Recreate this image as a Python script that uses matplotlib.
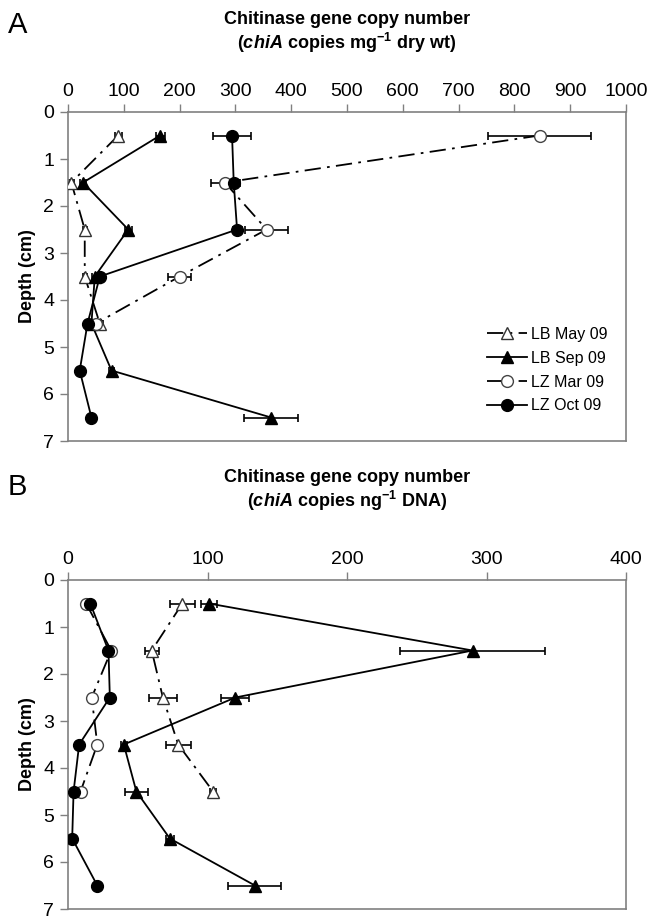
import matplotlib
matplotlib.use("Agg")
import matplotlib.pyplot as plt
import numpy as np

plt.rcParams['font.family'] = ['Liberation Sans', 'DejaVu Sans']
plt.rcParams['mathtext.fontset'] = 'custom'
plt.rcParams['mathtext.it'] = 'Liberation Sans:italic:bold'
plt.rcParams['mathtext.rm'] = 'Liberation Sans:bold'
plt.rcParams['mathtext.bf'] = 'Liberation Sans:bold'

depth = [0.5, 1.5, 2.5, 3.5, 4.5, 5.5, 6.5]
series_labels = ["LB May 09", "LB Sep 09", "LZ Mar 09", "LZ Oct 09"]

# Panel A: chiA copies mg-1 dry wt
a_lb_may = [90, 6, 30, 30, 57]
a_lb_may_err = [6, 4, 4, 4, 5]
a_lb_sep = [165, 27, 108, 48, 42, 78, 364]
a_lb_sep_err = [8, 5, 6, 5, 4, 4, 48]
a_lz_mar = [845, 281, 356, 200, 50]
a_lz_mar_err = [92, 25, 38, 20, 4]
a_lz_oct = [294, 297, 303, 57, 35, 21, 42]
a_lz_oct_err = [34, 12, 8, 4, 3, 2, 3]

# Panel B: chiA copies ng-1 DNA
b_lb_may = [82, 60, 68, 79, 104]
b_lb_may_err = [9, 5, 10, 9, 2]
b_lb_sep = [101, 290, 120, 40, 49, 73, 134]
b_lb_sep_err = [6, 52, 10, 2, 8, 3, 19]
b_lz_mar = [13, 31, 17, 21, 9]
b_lz_mar_err = [1, 1, 1, 1, 1]
b_lz_oct = [16, 29, 30, 8, 4, 3, 21]
b_lz_oct_err = [1, 1, 1, 1, 1, 1, 1]

a_xticks = list(range(0, 1001, 100))
b_xticks = list(range(0, 401, 100))
yticks = list(range(0, 8))

W, H = 652, 917
fig = plt.figure(figsize=(W / 100, H / 100), dpi=100)

DASHDOT = (0, (9, 3.5, 1.5, 3.5))
SPINE = '#808080'

def px(x0, y0, x1, y1):
    return [x0 / W, 1 - y1 / H, (x1 - x0) / W, (y1 - y0) / H]

def draw(ax, may, may_e, sep, sep_e, mar, mar_e, octo, octo_e, xmax, xticks):
    styles = [
        (may, may_e, dict(marker='^', mfc='white', mec='#333333', ls=DASHDOT, ms=8.5)),
        (sep, sep_e, dict(marker='^', mfc='black', mec='black', ls='-', ms=8.5)),
        (mar, mar_e, dict(marker='o', mfc='white', mec='#444444', ls=DASHDOT, ms=8.5)),
        (octo, octo_e, dict(marker='o', mfc='black', mec='black', ls='-', ms=8.5)),
    ]
    handles = []
    for (vals, errs, st), lab in zip(styles, series_labels):
        d = depth[:len(vals)]
        ax.errorbar(vals, d, xerr=errs, fmt='none', ecolor='black', elinewidth=1.2,
                    capsize=3, capthick=1.2, zorder=2)
        h, = ax.plot(vals, d, color='black', lw=1.3, label=lab, zorder=3, **st)
        handles.append(h)
    ax.set_xlim(0, xmax)
    ax.set_ylim(7, 0)
    ax.set_xticks(xticks)
    ax.set_yticks(yticks)
    ax.xaxis.tick_top()
    ax.tick_params(axis='both', labelsize=14, length=6, width=1, color=SPINE, pad=4)
    ax.tick_params(axis='x', pad=3)
    for s in ax.spines.values():
        s.set_color(SPINE)
        s.set_linewidth(1.2)
    ax.set_ylabel('Depth (cm)', fontsize=13, fontweight='bold', labelpad=5)
    return handles

axA = fig.add_axes(px(68, 112, 626, 441))
hA = draw(axA, a_lb_may, a_lb_may_err, a_lb_sep, a_lb_sep_err, a_lz_mar, a_lz_mar_err,
          a_lz_oct, a_lz_oct_err, 1000, a_xticks)
axB = fig.add_axes(px(68, 580, 626, 909))
draw(axB, b_lb_may, b_lb_may_err, b_lb_sep, b_lb_sep_err, b_lz_mar, b_lz_mar_err,
     b_lz_oct, b_lz_oct_err, 400, b_xticks)

fig.legend(handles=hA, labels=series_labels, loc='upper left',
           bbox_to_anchor=(487 / W, 1 - 327 / H), frameon=False, fontsize=11.5,
           borderpad=0, borderaxespad=0, handletextpad=0.25, handlelength=2.5,
           labelspacing=0.55)

cx = (68 + 626) / 2 / W
fig.text(cx, 1 - 20 / H, 'Chitinase gene copy number', ha='center', va='center',
         fontsize=13, fontweight='bold')
fig.text(cx, 1 - 43 / H, r'($\it{chiA}$ copies mg$^{\rm{-1}}$ dry wt)', ha='center',
         va='center', fontsize=13, fontweight='bold')
fig.text(cx, 1 - 478 / H, 'Chitinase gene copy number', ha='center', va='center',
         fontsize=13, fontweight='bold')
fig.text(cx, 1 - 501 / H, r'($\it{chiA}$ copies ng$^{\rm{-1}}$ DNA)', ha='center',
         va='center', fontsize=13, fontweight='bold')

fig.text(8 / W, 1 - 25 / H, 'A', ha='left', va='center', fontsize=21)
fig.text(8 / W, 1 - 487 / H, 'B', ha='left', va='center', fontsize=21)

fig.savefig('out.png', dpi=100)
